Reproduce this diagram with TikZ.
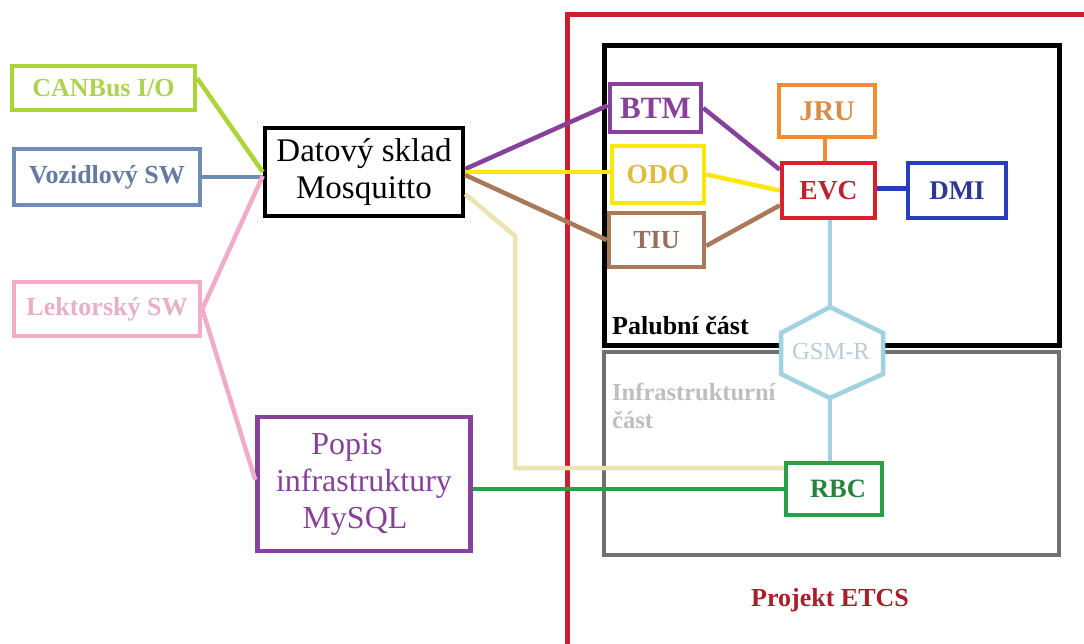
\documentclass[tikz,border=0pt]{standalone}
\usepackage{fontspec}
\setmainfont{Liberation Serif}
\usetikzlibrary{calc}
\definecolor{cangreen}{RGB}{172,212,55}
\definecolor{cantext}{RGB}{175,210,80}
\definecolor{vozblue}{RGB}{110,140,180}
\definecolor{voztext}{RGB}{100,122,160}
\definecolor{lekpink}{RGB}{240,172,200}
\definecolor{lektext}{RGB}{232,175,198}
\definecolor{purp}{RGB}{135,65,155}
\definecolor{yell}{RGB}{250,232,10}
\definecolor{yelltext}{RGB}{222,190,60}
\definecolor{brwn}{RGB}{170,120,90}
\definecolor{brwntext}{RGB}{150,110,90}
\definecolor{orng}{RGB}{240,140,50}
\definecolor{orngtext}{RGB}{218,140,65}
\definecolor{evcred}{RGB}{218,32,42}
\definecolor{evctext}{RGB}{190,35,45}
\definecolor{dmiblue}{RGB}{40,60,190}
\definecolor{dmitext}{RGB}{45,55,150}
\definecolor{lblue}{RGB}{160,210,225}
\definecolor{gsmtext}{RGB}{185,205,215}
\definecolor{grn}{RGB}{40,160,70}
\definecolor{grntext}{RGB}{40,130,60}
\definecolor{beige}{RGB}{236,226,178}
\definecolor{infragray}{RGB}{112,112,112}
\definecolor{infratext}{RGB}{190,190,190}
\definecolor{projred}{RGB}{205,30,45}
\definecolor{projtext}{RGB}{170,30,40}
\tikzset{
  box/.style={draw, line width=4.5pt, inner sep=0pt, fill=white},
  leftlbl/.style={font=\fontsize{26}{30}\selectfont\bfseries},
  inlbl/.style={font=\fontsize{#1}{30}\selectfont\bfseries},
  inlbl/.default=27,
  biglbl/.style={font=\fontsize{33}{37}\selectfont, align=center},
  conn/.style={line width=4.5pt},
}
\begin{document}
\begin{tikzpicture}[x=1pt,y=-1pt]
\useasboundingbox (0,0) rectangle (1084,643);
\fill[white] (0,0) rectangle (1084,643);
\begin{scope}
\clip (0,0) rectangle (1084,643);
\draw[projred, line width=5pt] (567,700) -- (567,14) -- (1120,14);
\end{scope}
% parts
\draw[infragray, line width=4.5pt] (604,352) rectangle (1059,555);
\draw[black, line width=5pt] (604,45) rectangle (1059,345);
\node[anchor=base west, font=\fontsize{26}{30}\selectfont\bfseries, text=black, inner sep=0pt] (palt) at (612,334) {Palubní část};
\node[anchor=base west, align=left, font=\fontsize{24.5}{28}\selectfont\bfseries, text=infratext, inner sep=0pt] (inft) at (612,428) {Infrastrukturní\\část};
\node[font=\fontsize{26}{30}\selectfont\bfseries, text=projtext, inner sep=0pt] (projt) at (830,600) {Projekt ETCS};
% left nodes
\node[box, draw=cangreen, text=cantext, leftlbl, minimum width=183pt, minimum height=44pt] (can) at (103.5,88) {CANBus I/O};
\node[box, draw=vozblue, text=voztext, leftlbl, minimum width=186pt, minimum height=56pt] (voz) at (107,177) {Vozidlový SW};
\node[box, draw=lekpink, text=lektext, leftlbl, minimum width=186pt, minimum height=54pt] (lek) at (107,309) {Lektorský SW};
\node[box, draw=black, text=black, biglbl, minimum width=198pt, minimum height=88pt] (dat) at (364,172) {Datový sklad\\Mosquitto};
\node[box, draw=purp, text=purp, biglbl, font=\fontsize{32}{37}\selectfont, minimum width=213pt, minimum height=134pt] (pop) at (364,484) {Popis\hspace*{34pt}\\infrastruktury\\MySQL\hspace*{18pt}};
% onboard nodes
\node[box, draw=purp, text=purp, inlbl=31, minimum width=91pt, minimum height=48pt] (btm) at (655.5,108) {BTM};
\node[box, draw=yell, text=yelltext, inlbl=27.5, minimum width=92pt, minimum height=57pt] (odo) at (658,174.5) {ODO};
\node[box, draw=brwn, text=brwntext, inlbl=26, minimum width=95pt, minimum height=54pt] (tiu) at (656.5,240) {TIU};
\node[box, draw=orng, text=orngtext, inlbl=28.5, minimum width=96pt, minimum height=52pt] (jru) at (827,111) {JRU};
\node[box, draw=evcred, text=evctext, inlbl=27.5, minimum width=93pt, minimum height=55pt] (evc) at (828.5,190.5) {EVC};
\node[box, draw=dmiblue, text=dmitext, inlbl=27, minimum width=98pt, minimum height=55pt] (dmi) at (957,190.5) {DMI};
\node[box, draw=grn, text=grntext, inlbl=26.5, minimum width=96pt, minimum height=52pt] (rbc) at (834,489) {\hspace*{8pt}RBC};
% GSM-R hexagon
\coordinate (gt) at (830,307);
\coordinate (gb) at (830,398);
\filldraw[lblue, fill=white, line width=4.5pt, line join=miter] (gt) -- (883,333) -- (883,374) -- (gb) -- (781,374) -- (781,333) -- cycle;
\node[font=\fontsize{24.5}{28}\selectfont, text=gsmtext, inner sep=0pt] (gsm) at (831,352) {GSM-R};
% connectors on the left
\draw[conn, cangreen] ($(can.north east)!0.3!(can.south east)$) -- (dat.west);
\draw[conn, vozblue] (voz.east) -- (voz.east -| dat.west);
\draw[conn, lekpink] ($(dat.west)+(0,4)$) -- (lek.east) -- ($(pop.north west)!0.47!(pop.south west)$);
% connectors from Datovy sklad
\draw[conn, purp] ($(dat.east)+(0,-3)$) -- ($(btm.north west)!0.45!(btm.south west)$);
\draw[conn, yell] (dat.east) -- (odo.west |- dat.east);
\draw[conn, brwn] ($(dat.east)+(0,3)$) -- (tiu.west);
\coordinate (bend1) at (515,236);
\coordinate (bend2) at (515,468);
\draw[conn, beige, line join=round] ($(dat.east)+(0,22)$) -- (bend1) -- (bend2) -- (bend2 -| rbc.west);
\draw[conn, grn] (pop.east |- rbc.west) -- (rbc.west);
% onboard connectors
\draw[conn, purp] (btm.east) -- ($(evc.north west)!0.15!(evc.south west)$);
\draw[conn, yell] (odo.east) -- (evc.west);
\draw[conn, brwn] ($(tiu.north east)!0.6!(tiu.south east)$) -- ($(evc.north west)!0.75!(evc.south west)$);
\draw[conn, orng] ($(jru.south)+(-2,0)$) -- ($(evc.north)+(-3.5,0)$);
\draw[conn, dmiblue] ($(evc.east)+(0,-2)$) -- ($(dmi.west)+(0,-2)$);
\draw[conn, lblue] (evc.south -| gt) -- (gt);
\draw[conn, lblue] (gb) -- (rbc.north -| gb);
\end{tikzpicture}
\end{document}
